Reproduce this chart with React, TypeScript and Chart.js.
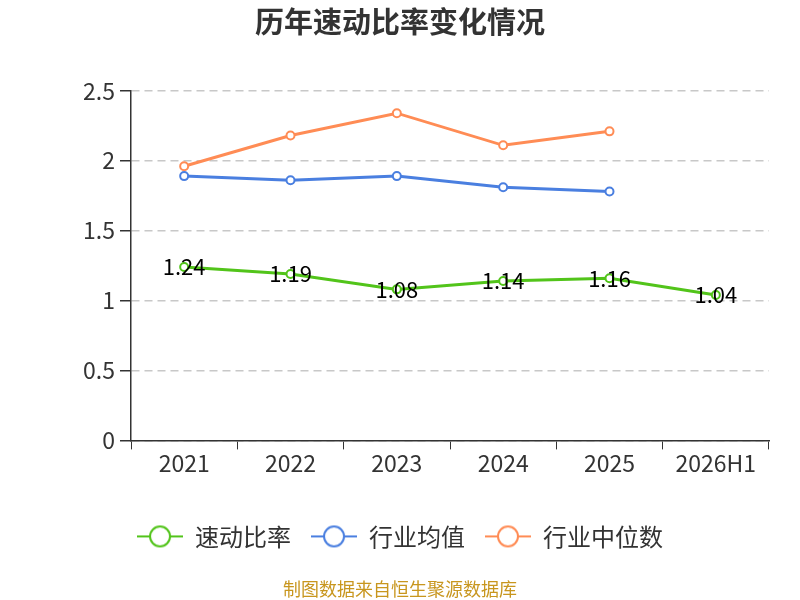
import React, { useEffect, useRef } from "react";
import { Chart, registerables } from "chart.js";

Chart.register(...registerables);

const categories = ["2021", "2022", "2023", "2024", "2025", "2026H1"];
const quickRatio = [1.24, 1.19, 1.08, 1.14, 1.16, 1.04];
const industryAvg = [1.89, 1.86, 1.89, 1.81, 1.78, null];
const industryMedian = [1.96, 2.18, 2.34, 2.11, 2.21, null];
const seriesNames = ["速动比率", "行业均值", "行业中位数"];
const colors = ["#52c41a", "#4a7fe0", "#ff8c55"];
const yTicks = [0, 0.5, 1, 1.5, 2, 2.5];

const FONT = "'Noto Sans CJK SC', 'Noto Sans', sans-serif";

function legendIcon(color: string): HTMLCanvasElement {
  const c = document.createElement("canvas");
  c.width = 46;
  c.height = 24;
  const ctx = c.getContext("2d")!;
  ctx.strokeStyle = color;
  ctx.lineWidth = 2;
  ctx.beginPath();
  ctx.moveTo(0, 12);
  ctx.lineTo(46, 12);
  ctx.stroke();
  ctx.beginPath();
  ctx.arc(23, 12, 10, 0, Math.PI * 2);
  ctx.fillStyle = "#fff";
  ctx.fill();
  ctx.stroke();
  return c;
}

const labelPlugin = {
  id: "valueLabels",
  afterDatasetsDraw(chart: any) {
    const ctx = chart.ctx;
    const meta = chart.getDatasetMeta(0);
    ctx.save();
    ctx.font = `22px ${FONT}`;
    ctx.fillStyle = "#000";
    ctx.textAlign = "center";
    ctx.textBaseline = "middle";
    meta.data.forEach((pt: any, i: number) => {
      const v = quickRatio[i];
      if (v == null) return;
      ctx.fillText(v.toFixed(2), pt.x, pt.y);
    });
    ctx.restore();
  },
};

export default function App() {
  const ref = useRef<HTMLCanvasElement>(null);
  useEffect(() => {
    document.body.style.margin = "0";
    const icons = colors.map(legendIcon);
    const data = [quickRatio, industryAvg, industryMedian];
    const chart = new Chart(ref.current!, {
      type: "line",
      data: {
        labels: categories,
        datasets: data.map((d, i) => ({
          label: seriesNames[i],
          data: d,
          borderColor: colors[i],
          backgroundColor: "#fff",
          borderWidth: 3,
          pointRadius: 4,
          pointBorderWidth: 2,
          pointBackgroundColor: "#fff",
          pointBorderColor: colors[i],
          pointStyle: "circle",
          tension: 0,
          spanGaps: false,
        })),
      },
      options: {
        animation: false,
        responsive: false,
        maintainAspectRatio: false,
        layout: { padding: { left: 31, right: 31, top: 0, bottom: 0 } },
        plugins: {
          title: {
            display: true,
            text: "历年速动比率变化情况",
            color: "#333",
            font: { family: FONT, size: 29, weight: "bold" },
            padding: { top: 5, bottom: 51 },
          },
          subtitle: {
            display: true,
            position: "bottom",
            text: "制图数据来自恒生聚源数据库",
            color: "#c8961e",
            font: { family: FONT, size: 18 },
            padding: { top: 20, bottom: 0 },
          },
          legend: {
            position: "bottom",
            labels: {
              usePointStyle: true,
              pointStyleWidth: 46,
              boxHeight: 24,
              padding: 20,
              color: "#333",
              font: { family: FONT, size: 24 },
              generateLabels: (ch: any) =>
                ch.data.datasets.map((ds: any, i: number) => ({
                  text: ds.label,
                  pointStyle: icons[i],
                  fillStyle: "#fff",
                  strokeStyle: colors[i],
                  lineWidth: 0,
                  fontColor: "#333",
                  hidden: false,
                  datasetIndex: i,
                })),
            },
          },
          tooltip: { enabled: false },
        },
        scales: {
          x: {
            offset: true,
            afterFit: (axis: any) => {
              axis.height = 64;
            },
            grid: {
              offset: true,
              drawOnChartArea: false,
              drawTicks: true,
              tickLength: 9,
              color: "#333",
            },
            border: { color: "#333", width: 1.5 },
            ticks: {
              color: "#333",
              font: { family: FONT, size: 23 },
              padding: 0,
            },
          },
          y: {
            min: 0,
            max: 2.5,
            afterFit: (axis: any) => {
              axis.width = 100;
            },
            afterBuildTicks: (axis: any) => {
              axis.ticks = yTicks.map((v) => ({ value: v }));
            },
            grid: {
              color: "#c8c8c8",
              lineWidth: 1.5,
              tickLength: 11,
              tickColor: "#333",
              tickBorderDash: [],
            },
            border: { color: "#333", width: 1.5, dash: [8, 5] },
            ticks: {
              color: "#333",
              font: { family: FONT, size: 23 },
              padding: 5,
              callback: (v: any) => String(v),
            },
          },
        },
      } as any,
      plugins: [labelPlugin],
    });
    return () => chart.destroy();
  }, []);
  return (
    <div style={{ width: 800, height: 600 }}>
      <canvas ref={ref} width={800} height={600} style={{ width: 800, height: 600 }} />
    </div>
  );
}
